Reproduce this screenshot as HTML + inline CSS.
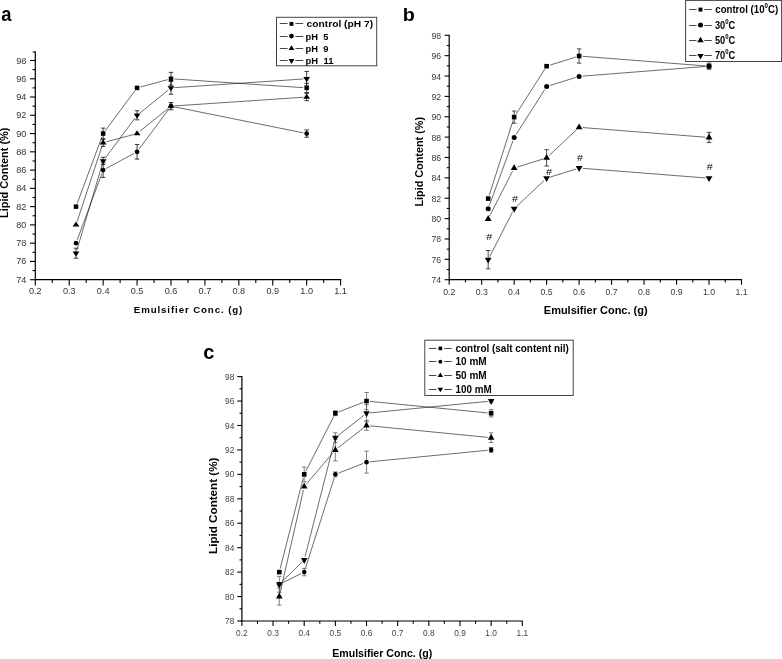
<!DOCTYPE html>
<html><head><meta charset="utf-8"><title>Lipid content charts</title>
<style>
html,body{margin:0;padding:0;background:#fff;}
body{width:782px;height:659px;overflow:hidden;font-family:"Liberation Sans",sans-serif;}
svg{display:block;will-change:transform;filter:grayscale(1);}
text{font-family:"Liberation Sans",sans-serif;}
.ax{stroke:#000;stroke-width:1.2;fill:none;}
.tk{stroke:#000;stroke-width:1.1;fill:none;}
.ln{stroke:#111;stroke-width:0.62;fill:none;}
.eba{stroke:#111;stroke-width:0.8;fill:none;}
.ebb{stroke:#111;stroke-width:0.75;fill:none;}
.ebc{stroke:#444;stroke-width:0.65;fill:none;}
.ll{stroke:#333;stroke-width:0.9;fill:none;}
.tl{fill:#333;}
.at{font-weight:bold;fill:#000;}
.lg{font-weight:bold;fill:#000;}
.lgb{fill:#fff;stroke:#444;stroke-width:1;}
.pl{font-size:20px;font-weight:bold;fill:#000;}
.hs{font-size:10px;fill:#000;}
</style></head><body>
<svg width="782" height="659" viewBox="0 0 782 659">
<rect width="782" height="659" fill="#fff"/>
<g id="chart-a">
<line x1="35.30" y1="51.40" x2="35.30" y2="280.30" class="ax"/>
<line x1="34.70" y1="279.70" x2="341.20" y2="279.70" class="ax"/>
<line x1="32.70" y1="51.90" x2="35.30" y2="51.90" class="tk"/>
<line x1="30.00" y1="279.70" x2="35.30" y2="279.70" class="tk"/>
<text transform="translate(26.30,282.70) scale(1.1,1)" class="tl" style="font-size:8.3px;fill:#333" text-anchor="end">74</text>
<line x1="32.50" y1="270.57" x2="35.30" y2="270.57" class="tk"/>
<line x1="30.00" y1="261.43" x2="35.30" y2="261.43" class="tk"/>
<text transform="translate(26.30,264.43) scale(1.1,1)" class="tl" style="font-size:8.3px;fill:#333" text-anchor="end">76</text>
<line x1="32.50" y1="252.30" x2="35.30" y2="252.30" class="tk"/>
<line x1="30.00" y1="243.17" x2="35.30" y2="243.17" class="tk"/>
<text transform="translate(26.30,246.17) scale(1.1,1)" class="tl" style="font-size:8.3px;fill:#333" text-anchor="end">78</text>
<line x1="32.50" y1="234.03" x2="35.30" y2="234.03" class="tk"/>
<line x1="30.00" y1="224.90" x2="35.30" y2="224.90" class="tk"/>
<text transform="translate(26.30,227.90) scale(1.1,1)" class="tl" style="font-size:8.3px;fill:#333" text-anchor="end">80</text>
<line x1="32.50" y1="215.77" x2="35.30" y2="215.77" class="tk"/>
<line x1="30.00" y1="206.63" x2="35.30" y2="206.63" class="tk"/>
<text transform="translate(26.30,209.63) scale(1.1,1)" class="tl" style="font-size:8.3px;fill:#333" text-anchor="end">82</text>
<line x1="32.50" y1="197.50" x2="35.30" y2="197.50" class="tk"/>
<line x1="30.00" y1="188.37" x2="35.30" y2="188.37" class="tk"/>
<text transform="translate(26.30,191.37) scale(1.1,1)" class="tl" style="font-size:8.3px;fill:#333" text-anchor="end">84</text>
<line x1="32.50" y1="179.23" x2="35.30" y2="179.23" class="tk"/>
<line x1="30.00" y1="170.10" x2="35.30" y2="170.10" class="tk"/>
<text transform="translate(26.30,173.10) scale(1.1,1)" class="tl" style="font-size:8.3px;fill:#333" text-anchor="end">86</text>
<line x1="32.50" y1="160.97" x2="35.30" y2="160.97" class="tk"/>
<line x1="30.00" y1="151.83" x2="35.30" y2="151.83" class="tk"/>
<text transform="translate(26.30,154.83) scale(1.1,1)" class="tl" style="font-size:8.3px;fill:#333" text-anchor="end">88</text>
<line x1="32.50" y1="142.70" x2="35.30" y2="142.70" class="tk"/>
<line x1="30.00" y1="133.57" x2="35.30" y2="133.57" class="tk"/>
<text transform="translate(26.30,136.57) scale(1.1,1)" class="tl" style="font-size:8.3px;fill:#333" text-anchor="end">90</text>
<line x1="32.50" y1="124.43" x2="35.30" y2="124.43" class="tk"/>
<line x1="30.00" y1="115.30" x2="35.30" y2="115.30" class="tk"/>
<text transform="translate(26.30,118.30) scale(1.1,1)" class="tl" style="font-size:8.3px;fill:#333" text-anchor="end">92</text>
<line x1="32.50" y1="106.17" x2="35.30" y2="106.17" class="tk"/>
<line x1="30.00" y1="97.03" x2="35.30" y2="97.03" class="tk"/>
<text transform="translate(26.30,100.03) scale(1.1,1)" class="tl" style="font-size:8.3px;fill:#333" text-anchor="end">94</text>
<line x1="32.50" y1="87.90" x2="35.30" y2="87.90" class="tk"/>
<line x1="30.00" y1="78.77" x2="35.30" y2="78.77" class="tk"/>
<text transform="translate(26.30,81.77) scale(1.1,1)" class="tl" style="font-size:8.3px;fill:#333" text-anchor="end">96</text>
<line x1="32.50" y1="69.63" x2="35.30" y2="69.63" class="tk"/>
<line x1="30.00" y1="60.50" x2="35.30" y2="60.50" class="tk"/>
<text transform="translate(26.30,63.50) scale(1.1,1)" class="tl" style="font-size:8.3px;fill:#333" text-anchor="end">98</text>
<line x1="35.30" y1="279.70" x2="35.30" y2="285.40" class="tk"/>
<text transform="translate(35.30,293.70) scale(1.1,1)" class="tl" style="font-size:8.3px;fill:#333" text-anchor="middle">0.2</text>
<line x1="52.26" y1="279.70" x2="52.26" y2="282.90" class="tk"/>
<line x1="69.22" y1="279.70" x2="69.22" y2="285.40" class="tk"/>
<text transform="translate(69.22,293.70) scale(1.1,1)" class="tl" style="font-size:8.3px;fill:#333" text-anchor="middle">0.3</text>
<line x1="86.18" y1="279.70" x2="86.18" y2="282.90" class="tk"/>
<line x1="103.14" y1="279.70" x2="103.14" y2="285.40" class="tk"/>
<text transform="translate(103.14,293.70) scale(1.1,1)" class="tl" style="font-size:8.3px;fill:#333" text-anchor="middle">0.4</text>
<line x1="120.11" y1="279.70" x2="120.11" y2="282.90" class="tk"/>
<line x1="137.07" y1="279.70" x2="137.07" y2="285.40" class="tk"/>
<text transform="translate(137.07,293.70) scale(1.1,1)" class="tl" style="font-size:8.3px;fill:#333" text-anchor="middle">0.5</text>
<line x1="154.03" y1="279.70" x2="154.03" y2="282.90" class="tk"/>
<line x1="170.99" y1="279.70" x2="170.99" y2="285.40" class="tk"/>
<text transform="translate(170.99,293.70) scale(1.1,1)" class="tl" style="font-size:8.3px;fill:#333" text-anchor="middle">0.6</text>
<line x1="187.95" y1="279.70" x2="187.95" y2="282.90" class="tk"/>
<line x1="204.91" y1="279.70" x2="204.91" y2="285.40" class="tk"/>
<text transform="translate(204.91,293.70) scale(1.1,1)" class="tl" style="font-size:8.3px;fill:#333" text-anchor="middle">0.7</text>
<line x1="221.87" y1="279.70" x2="221.87" y2="282.90" class="tk"/>
<line x1="238.83" y1="279.70" x2="238.83" y2="285.40" class="tk"/>
<text transform="translate(238.83,293.70) scale(1.1,1)" class="tl" style="font-size:8.3px;fill:#333" text-anchor="middle">0.8</text>
<line x1="255.79" y1="279.70" x2="255.79" y2="282.90" class="tk"/>
<line x1="272.76" y1="279.70" x2="272.76" y2="285.40" class="tk"/>
<text transform="translate(272.76,293.70) scale(1.1,1)" class="tl" style="font-size:8.3px;fill:#333" text-anchor="middle">0.9</text>
<line x1="289.72" y1="279.70" x2="289.72" y2="282.90" class="tk"/>
<line x1="306.68" y1="279.70" x2="306.68" y2="285.40" class="tk"/>
<text transform="translate(306.68,293.70) scale(1.1,1)" class="tl" style="font-size:8.3px;fill:#333" text-anchor="middle">1.0</text>
<line x1="323.64" y1="279.70" x2="323.64" y2="282.90" class="tk"/>
<line x1="340.60" y1="279.70" x2="340.60" y2="285.40" class="tk"/>
<text transform="translate(340.60,293.70) scale(1.1,1)" class="tl" style="font-size:8.3px;fill:#333" text-anchor="middle">1.1</text>
<path d="M77.23,203.35L101.93,136.85M105.23,130.76L134.98,90.71M140.45,86.99L167.61,79.68M174.48,79.00L303.19,87.66" class="ln"/>
<path d="M77.23,239.89L101.93,173.38M106.23,168.44L133.99,153.49M139.15,149.02L168.90,108.98M174.42,106.86L303.25,132.87" class="ln"/>
<path d="M77.10,221.58L102.05,146.02M106.52,141.79L133.69,134.48M139.79,131.37L168.27,108.37M174.48,105.93L303.19,97.27" class="ln"/>
<path d="M76.99,249.86L102.16,164.32M105.23,158.16L134.98,118.11M139.79,113.10L168.27,90.10M174.48,87.66L303.19,79.00" class="ln"/>
<rect x="73.76" y="204.38" width="4.50" height="4.50" fill="#000"/>
<path d="M103.14,128.09V139.05M100.84,128.09h4.6M100.84,139.05h4.6" class="eba"/>
<rect x="100.89" y="131.32" width="4.50" height="4.50" fill="#000"/>
<rect x="134.82" y="85.65" width="4.50" height="4.50" fill="#000"/>
<path d="M170.99,72.37V85.16M168.69,72.37h4.6M168.69,85.16h4.6" class="eba"/>
<rect x="168.74" y="76.52" width="4.50" height="4.50" fill="#000"/>
<path d="M306.68,83.33V92.47M304.38,83.33h4.6M304.38,92.47h4.6" class="eba"/>
<rect x="304.43" y="85.65" width="4.50" height="4.50" fill="#000"/>
<circle cx="76.01" cy="243.17" r="2.40" fill="#000"/>
<path d="M103.14,162.79V177.41M100.84,162.79h4.6M100.84,177.41h4.6" class="eba"/>
<circle cx="103.14" cy="170.10" r="2.40" fill="#000"/>
<path d="M137.07,144.53V159.14M134.77,144.53h4.6M134.77,159.14h4.6" class="eba"/>
<circle cx="137.07" cy="151.83" r="2.40" fill="#000"/>
<circle cx="170.99" cy="106.17" r="2.40" fill="#000"/>
<path d="M306.68,129.91V137.22M304.38,129.91h4.6M304.38,137.22h4.6" class="eba"/>
<circle cx="306.68" cy="133.57" r="2.40" fill="#000"/>
<polygon points="76.01,221.50 79.41,226.60 72.61,226.60" fill="#000"/>
<path d="M103.14,139.05V146.35M100.84,139.05h4.6M100.84,146.35h4.6" class="eba"/>
<polygon points="103.14,139.30 106.54,144.40 99.74,144.40" fill="#000"/>
<polygon points="137.07,130.17 140.47,135.27 133.67,135.27" fill="#000"/>
<path d="M170.99,102.51V109.82M168.69,102.51h4.6M168.69,109.82h4.6" class="eba"/>
<polygon points="170.99,102.77 174.39,107.87 167.59,107.87" fill="#000"/>
<path d="M306.68,93.38V100.69M304.38,93.38h4.6M304.38,100.69h4.6" class="eba"/>
<polygon points="306.68,93.63 310.08,98.73 303.28,98.73" fill="#000"/>
<path d="M76.01,248.19V258.24M73.71,248.19h4.6M73.71,258.24h4.6" class="eba"/>
<polygon points="76.01,256.61 79.41,251.51 72.61,251.51" fill="#000"/>
<path d="M103.14,157.31V164.62M100.84,157.31h4.6M100.84,164.62h4.6" class="eba"/>
<polygon points="103.14,164.37 106.54,159.27 99.74,159.27" fill="#000"/>
<path d="M137.07,110.73V119.87M134.77,110.73h4.6M134.77,119.87h4.6" class="eba"/>
<polygon points="137.07,118.70 140.47,113.60 133.67,113.60" fill="#000"/>
<path d="M170.99,81.51V94.29M168.69,81.51h4.6M168.69,94.29h4.6" class="eba"/>
<polygon points="170.99,91.30 174.39,86.20 167.59,86.20" fill="#000"/>
<path d="M306.68,71.46V86.07M304.38,71.46h4.6M304.38,86.07h4.6" class="eba"/>
<polygon points="306.68,82.17 310.08,77.07 303.28,77.07" fill="#000"/>
</g>
<g id="chart-b">
<line x1="449.20" y1="34.80" x2="449.20" y2="280.30" class="ax"/>
<line x1="448.60" y1="279.70" x2="742.10" y2="279.70" class="ax"/>
<line x1="444.60" y1="279.70" x2="449.20" y2="279.70" class="tk"/>
<text transform="translate(441.20,283.20) scale(0.89,1)" class="tl" style="font-size:9.8px;fill:#3a3a3a" text-anchor="end">74</text>
<line x1="446.80" y1="269.52" x2="449.20" y2="269.52" class="tk"/>
<line x1="444.60" y1="259.33" x2="449.20" y2="259.33" class="tk"/>
<text transform="translate(441.20,262.83) scale(0.89,1)" class="tl" style="font-size:9.8px;fill:#3a3a3a" text-anchor="end">76</text>
<line x1="446.80" y1="249.15" x2="449.20" y2="249.15" class="tk"/>
<line x1="444.60" y1="238.97" x2="449.20" y2="238.97" class="tk"/>
<text transform="translate(441.20,242.47) scale(0.89,1)" class="tl" style="font-size:9.8px;fill:#3a3a3a" text-anchor="end">78</text>
<line x1="446.80" y1="228.78" x2="449.20" y2="228.78" class="tk"/>
<line x1="444.60" y1="218.60" x2="449.20" y2="218.60" class="tk"/>
<text transform="translate(441.20,222.10) scale(0.89,1)" class="tl" style="font-size:9.8px;fill:#3a3a3a" text-anchor="end">80</text>
<line x1="446.80" y1="208.42" x2="449.20" y2="208.42" class="tk"/>
<line x1="444.60" y1="198.23" x2="449.20" y2="198.23" class="tk"/>
<text transform="translate(441.20,201.73) scale(0.89,1)" class="tl" style="font-size:9.8px;fill:#3a3a3a" text-anchor="end">82</text>
<line x1="446.80" y1="188.05" x2="449.20" y2="188.05" class="tk"/>
<line x1="444.60" y1="177.87" x2="449.20" y2="177.87" class="tk"/>
<text transform="translate(441.20,181.37) scale(0.89,1)" class="tl" style="font-size:9.8px;fill:#3a3a3a" text-anchor="end">84</text>
<line x1="446.80" y1="167.68" x2="449.20" y2="167.68" class="tk"/>
<line x1="444.60" y1="157.50" x2="449.20" y2="157.50" class="tk"/>
<text transform="translate(441.20,161.00) scale(0.89,1)" class="tl" style="font-size:9.8px;fill:#3a3a3a" text-anchor="end">86</text>
<line x1="446.80" y1="147.32" x2="449.20" y2="147.32" class="tk"/>
<line x1="444.60" y1="137.13" x2="449.20" y2="137.13" class="tk"/>
<text transform="translate(441.20,140.63) scale(0.89,1)" class="tl" style="font-size:9.8px;fill:#3a3a3a" text-anchor="end">88</text>
<line x1="446.80" y1="126.95" x2="449.20" y2="126.95" class="tk"/>
<line x1="444.60" y1="116.77" x2="449.20" y2="116.77" class="tk"/>
<text transform="translate(441.20,120.27) scale(0.89,1)" class="tl" style="font-size:9.8px;fill:#3a3a3a" text-anchor="end">90</text>
<line x1="446.80" y1="106.58" x2="449.20" y2="106.58" class="tk"/>
<line x1="444.60" y1="96.40" x2="449.20" y2="96.40" class="tk"/>
<text transform="translate(441.20,99.90) scale(0.89,1)" class="tl" style="font-size:9.8px;fill:#3a3a3a" text-anchor="end">92</text>
<line x1="446.80" y1="86.22" x2="449.20" y2="86.22" class="tk"/>
<line x1="444.60" y1="76.03" x2="449.20" y2="76.03" class="tk"/>
<text transform="translate(441.20,79.53) scale(0.89,1)" class="tl" style="font-size:9.8px;fill:#3a3a3a" text-anchor="end">94</text>
<line x1="446.80" y1="65.85" x2="449.20" y2="65.85" class="tk"/>
<line x1="444.60" y1="55.67" x2="449.20" y2="55.67" class="tk"/>
<text transform="translate(441.20,59.17) scale(0.89,1)" class="tl" style="font-size:9.8px;fill:#3a3a3a" text-anchor="end">96</text>
<line x1="446.80" y1="45.48" x2="449.20" y2="45.48" class="tk"/>
<line x1="444.60" y1="35.30" x2="449.20" y2="35.30" class="tk"/>
<text transform="translate(441.20,38.80) scale(0.89,1)" class="tl" style="font-size:9.8px;fill:#3a3a3a" text-anchor="end">98</text>
<line x1="449.20" y1="279.70" x2="449.20" y2="284.70" class="tk"/>
<text transform="translate(449.20,294.90) scale(0.89,1)" class="tl" style="font-size:9.8px;fill:#3a3a3a" text-anchor="middle">0.2</text>
<line x1="465.44" y1="279.70" x2="465.44" y2="282.50" class="tk"/>
<line x1="481.68" y1="279.70" x2="481.68" y2="284.70" class="tk"/>
<text transform="translate(481.68,294.90) scale(0.89,1)" class="tl" style="font-size:9.8px;fill:#3a3a3a" text-anchor="middle">0.3</text>
<line x1="497.92" y1="279.70" x2="497.92" y2="282.50" class="tk"/>
<line x1="514.16" y1="279.70" x2="514.16" y2="284.70" class="tk"/>
<text transform="translate(514.16,294.90) scale(0.89,1)" class="tl" style="font-size:9.8px;fill:#3a3a3a" text-anchor="middle">0.4</text>
<line x1="530.39" y1="279.70" x2="530.39" y2="282.50" class="tk"/>
<line x1="546.63" y1="279.70" x2="546.63" y2="284.70" class="tk"/>
<text transform="translate(546.63,294.90) scale(0.89,1)" class="tl" style="font-size:9.8px;fill:#3a3a3a" text-anchor="middle">0.5</text>
<line x1="562.87" y1="279.70" x2="562.87" y2="282.50" class="tk"/>
<line x1="579.11" y1="279.70" x2="579.11" y2="284.70" class="tk"/>
<text transform="translate(579.11,294.90) scale(0.89,1)" class="tl" style="font-size:9.8px;fill:#3a3a3a" text-anchor="middle">0.6</text>
<line x1="595.35" y1="279.70" x2="595.35" y2="282.50" class="tk"/>
<line x1="611.59" y1="279.70" x2="611.59" y2="284.70" class="tk"/>
<text transform="translate(611.59,294.90) scale(0.89,1)" class="tl" style="font-size:9.8px;fill:#3a3a3a" text-anchor="middle">0.7</text>
<line x1="627.83" y1="279.70" x2="627.83" y2="282.50" class="tk"/>
<line x1="644.07" y1="279.70" x2="644.07" y2="284.70" class="tk"/>
<text transform="translate(644.07,294.90) scale(0.89,1)" class="tl" style="font-size:9.8px;fill:#3a3a3a" text-anchor="middle">0.8</text>
<line x1="660.31" y1="279.70" x2="660.31" y2="282.50" class="tk"/>
<line x1="676.54" y1="279.70" x2="676.54" y2="284.70" class="tk"/>
<text transform="translate(676.54,294.90) scale(0.89,1)" class="tl" style="font-size:9.8px;fill:#3a3a3a" text-anchor="middle">0.9</text>
<line x1="692.78" y1="279.70" x2="692.78" y2="282.50" class="tk"/>
<line x1="709.02" y1="279.70" x2="709.02" y2="284.70" class="tk"/>
<text transform="translate(709.02,294.90) scale(0.89,1)" class="tl" style="font-size:9.8px;fill:#3a3a3a" text-anchor="middle">1.0</text>
<line x1="725.26" y1="279.70" x2="725.26" y2="282.50" class="tk"/>
<line x1="741.50" y1="279.70" x2="741.50" y2="284.70" class="tk"/>
<text transform="translate(741.50,294.90) scale(0.89,1)" class="tl" style="font-size:9.8px;fill:#3a3a3a" text-anchor="middle">1.1</text>
<path d="M489.24,195.25L513.09,120.45M516.04,114.17L544.75,69.15M549.97,65.15L575.77,57.06M582.60,56.29L705.53,65.93" class="ln"/>
<path d="M489.37,205.48L512.96,140.77M516.04,134.53L544.75,89.52M549.97,85.52L575.77,77.43M582.60,76.11L705.53,66.47" class="ln"/>
<path d="M489.76,215.83L512.56,171.15M517.50,166.99L543.29,158.90M549.18,155.45L576.56,129.70M582.60,127.57L705.53,137.21" class="ln"/>
<path d="M489.76,256.57L512.56,211.88M516.70,206.37L544.08,180.61M549.97,177.17L575.77,169.08M582.60,168.31L705.53,177.94" class="ln"/>
<path d="M488.17,250.52V268.85M485.87,250.52h4.6M485.87,268.85h4.6" class="ebb"/>
<polygon points="488.17,263.55 491.57,257.75 484.77,257.75" fill="#000"/>
<polygon points="514.16,212.63 517.56,206.83 510.76,206.83" fill="#000"/>
<polygon points="546.63,182.08 550.03,176.28 543.23,176.28" fill="#000"/>
<polygon points="579.11,171.90 582.51,166.10 575.71,166.10" fill="#000"/>
<polygon points="709.02,182.08 712.42,176.28 705.62,176.28" fill="#000"/>
<polygon points="488.17,215.08 491.57,220.88 484.77,220.88" fill="#000"/>
<polygon points="514.16,164.17 517.56,169.97 510.76,169.97" fill="#000"/>
<path d="M546.63,149.70V166.00M544.33,149.70h4.6M544.33,166.00h4.6" class="ebb"/>
<polygon points="546.63,153.98 550.03,159.78 543.23,159.78" fill="#000"/>
<polygon points="579.11,123.43 582.51,129.23 575.71,129.23" fill="#000"/>
<path d="M709.02,132.39V142.58M706.72,132.39h4.6M706.72,142.58h4.6" class="ebb"/>
<polygon points="709.02,133.62 712.42,139.42 705.62,139.42" fill="#000"/>
<circle cx="488.17" cy="208.77" r="2.50" fill="#000"/>
<circle cx="514.16" cy="137.48" r="2.50" fill="#000"/>
<circle cx="546.63" cy="86.57" r="2.50" fill="#000"/>
<circle cx="579.11" cy="76.38" r="2.50" fill="#000"/>
<circle cx="709.02" cy="66.20" r="2.50" fill="#000"/>
<rect x="485.87" y="196.28" width="4.60" height="4.60" fill="#000"/>
<path d="M514.16,111.01V123.23M511.86,111.01h4.6M511.86,123.23h4.6" class="ebb"/>
<rect x="511.86" y="114.82" width="4.60" height="4.60" fill="#000"/>
<rect x="544.33" y="63.90" width="4.60" height="4.60" fill="#000"/>
<path d="M579.11,48.89V63.15M576.81,48.89h4.6M576.81,63.15h4.6" class="ebb"/>
<rect x="576.81" y="53.72" width="4.60" height="4.60" fill="#000"/>
<path d="M709.02,63.15V69.25M706.72,63.15h4.6M706.72,69.25h4.6" class="ebb"/>
<rect x="706.72" y="63.90" width="4.60" height="4.60" fill="#000"/>
</g>
<g id="chart-c">
<line x1="241.90" y1="376.10" x2="241.90" y2="621.60" class="ax"/>
<line x1="241.30" y1="621.00" x2="522.90" y2="621.00" class="ax"/>
<line x1="237.30" y1="621.00" x2="241.90" y2="621.00" class="tk"/>
<text transform="translate(234.30,624.05) scale(0.9,1)" class="tl" style="font-size:9.3px;fill:#444" text-anchor="end">78</text>
<line x1="239.50" y1="608.78" x2="241.90" y2="608.78" class="tk"/>
<line x1="237.30" y1="596.56" x2="241.90" y2="596.56" class="tk"/>
<text transform="translate(234.30,599.61) scale(0.9,1)" class="tl" style="font-size:9.3px;fill:#444" text-anchor="end">80</text>
<line x1="239.50" y1="584.34" x2="241.90" y2="584.34" class="tk"/>
<line x1="237.30" y1="572.12" x2="241.90" y2="572.12" class="tk"/>
<text transform="translate(234.30,575.17) scale(0.9,1)" class="tl" style="font-size:9.3px;fill:#444" text-anchor="end">82</text>
<line x1="239.50" y1="559.90" x2="241.90" y2="559.90" class="tk"/>
<line x1="237.30" y1="547.68" x2="241.90" y2="547.68" class="tk"/>
<text transform="translate(234.30,550.73) scale(0.9,1)" class="tl" style="font-size:9.3px;fill:#444" text-anchor="end">84</text>
<line x1="239.50" y1="535.46" x2="241.90" y2="535.46" class="tk"/>
<line x1="237.30" y1="523.24" x2="241.90" y2="523.24" class="tk"/>
<text transform="translate(234.30,526.29) scale(0.9,1)" class="tl" style="font-size:9.3px;fill:#444" text-anchor="end">86</text>
<line x1="239.50" y1="511.02" x2="241.90" y2="511.02" class="tk"/>
<line x1="237.30" y1="498.80" x2="241.90" y2="498.80" class="tk"/>
<text transform="translate(234.30,501.85) scale(0.9,1)" class="tl" style="font-size:9.3px;fill:#444" text-anchor="end">88</text>
<line x1="239.50" y1="486.58" x2="241.90" y2="486.58" class="tk"/>
<line x1="237.30" y1="474.36" x2="241.90" y2="474.36" class="tk"/>
<text transform="translate(234.30,477.41) scale(0.9,1)" class="tl" style="font-size:9.3px;fill:#444" text-anchor="end">90</text>
<line x1="239.50" y1="462.14" x2="241.90" y2="462.14" class="tk"/>
<line x1="237.30" y1="449.92" x2="241.90" y2="449.92" class="tk"/>
<text transform="translate(234.30,452.97) scale(0.9,1)" class="tl" style="font-size:9.3px;fill:#444" text-anchor="end">92</text>
<line x1="239.50" y1="437.70" x2="241.90" y2="437.70" class="tk"/>
<line x1="237.30" y1="425.48" x2="241.90" y2="425.48" class="tk"/>
<text transform="translate(234.30,428.53) scale(0.9,1)" class="tl" style="font-size:9.3px;fill:#444" text-anchor="end">94</text>
<line x1="239.50" y1="413.26" x2="241.90" y2="413.26" class="tk"/>
<line x1="237.30" y1="401.04" x2="241.90" y2="401.04" class="tk"/>
<text transform="translate(234.30,404.09) scale(0.9,1)" class="tl" style="font-size:9.3px;fill:#444" text-anchor="end">96</text>
<line x1="239.50" y1="388.82" x2="241.90" y2="388.82" class="tk"/>
<line x1="237.30" y1="376.60" x2="241.90" y2="376.60" class="tk"/>
<text transform="translate(234.30,379.65) scale(0.9,1)" class="tl" style="font-size:9.3px;fill:#444" text-anchor="end">98</text>
<line x1="241.90" y1="621.00" x2="241.90" y2="626.00" class="tk"/>
<text transform="translate(241.90,636.30) scale(0.9,1)" class="tl" style="font-size:9.3px;fill:#444" text-anchor="middle">0.2</text>
<line x1="257.48" y1="621.00" x2="257.48" y2="623.80" class="tk"/>
<line x1="273.06" y1="621.00" x2="273.06" y2="626.00" class="tk"/>
<text transform="translate(273.06,636.30) scale(0.9,1)" class="tl" style="font-size:9.3px;fill:#444" text-anchor="middle">0.3</text>
<line x1="288.63" y1="621.00" x2="288.63" y2="623.80" class="tk"/>
<line x1="304.21" y1="621.00" x2="304.21" y2="626.00" class="tk"/>
<text transform="translate(304.21,636.30) scale(0.9,1)" class="tl" style="font-size:9.3px;fill:#444" text-anchor="middle">0.4</text>
<line x1="319.79" y1="621.00" x2="319.79" y2="623.80" class="tk"/>
<line x1="335.37" y1="621.00" x2="335.37" y2="626.00" class="tk"/>
<text transform="translate(335.37,636.30) scale(0.9,1)" class="tl" style="font-size:9.3px;fill:#444" text-anchor="middle">0.5</text>
<line x1="350.94" y1="621.00" x2="350.94" y2="623.80" class="tk"/>
<line x1="366.52" y1="621.00" x2="366.52" y2="626.00" class="tk"/>
<text transform="translate(366.52,636.30) scale(0.9,1)" class="tl" style="font-size:9.3px;fill:#444" text-anchor="middle">0.6</text>
<line x1="382.10" y1="621.00" x2="382.10" y2="623.80" class="tk"/>
<line x1="397.68" y1="621.00" x2="397.68" y2="626.00" class="tk"/>
<text transform="translate(397.68,636.30) scale(0.9,1)" class="tl" style="font-size:9.3px;fill:#444" text-anchor="middle">0.7</text>
<line x1="413.26" y1="621.00" x2="413.26" y2="623.80" class="tk"/>
<line x1="428.83" y1="621.00" x2="428.83" y2="626.00" class="tk"/>
<text transform="translate(428.83,636.30) scale(0.9,1)" class="tl" style="font-size:9.3px;fill:#444" text-anchor="middle">0.8</text>
<line x1="444.41" y1="621.00" x2="444.41" y2="623.80" class="tk"/>
<line x1="459.99" y1="621.00" x2="459.99" y2="626.00" class="tk"/>
<text transform="translate(459.99,636.30) scale(0.9,1)" class="tl" style="font-size:9.3px;fill:#444" text-anchor="middle">0.9</text>
<line x1="475.57" y1="621.00" x2="475.57" y2="623.80" class="tk"/>
<line x1="491.14" y1="621.00" x2="491.14" y2="626.00" class="tk"/>
<text transform="translate(491.14,636.30) scale(0.9,1)" class="tl" style="font-size:9.3px;fill:#444" text-anchor="middle">1.0</text>
<line x1="506.72" y1="621.00" x2="506.72" y2="623.80" class="tk"/>
<line x1="522.30" y1="621.00" x2="522.30" y2="626.00" class="tk"/>
<text transform="translate(522.30,636.30) scale(0.9,1)" class="tl" style="font-size:9.3px;fill:#444" text-anchor="middle">1.1</text>
<path d="M280.15,568.73L303.35,477.75M305.80,471.24L333.78,416.38M338.62,411.98L363.26,402.32M370.01,401.38L487.66,412.92" class="ln"/>
<path d="M282.43,582.80L301.07,573.66M305.27,568.79L334.30,477.69M338.62,473.08L363.26,463.42M370.01,461.80L487.66,450.26" class="ln"/>
<path d="M280.06,593.15L303.44,489.99M306.48,483.91L333.10,452.59M338.12,447.76L363.77,427.64M370.01,425.82L487.66,437.36" class="ln"/>
<path d="M281.79,581.89L301.71,562.35M305.08,556.51L334.50,441.09M338.12,435.54L363.77,415.42M370.01,412.92L487.66,401.38" class="ln"/>
<rect x="276.99" y="569.82" width="4.60" height="4.60" fill="#000"/>
<path d="M304.21,467.03V481.69M301.91,467.03h4.6M301.91,481.69h4.6" class="ebc"/>
<rect x="301.91" y="472.06" width="4.60" height="4.60" fill="#000"/>
<path d="M335.37,410.82V415.70M333.07,410.82h4.6M333.07,415.70h4.6" class="ebc"/>
<rect x="333.07" y="410.96" width="4.60" height="4.60" fill="#000"/>
<path d="M366.52,392.49V409.59M364.22,392.49h4.6M364.22,409.59h4.6" class="ebc"/>
<rect x="364.22" y="398.74" width="4.60" height="4.60" fill="#000"/>
<path d="M491.14,409.59V416.93M488.84,409.59h4.6M488.84,416.93h4.6" class="ebc"/>
<rect x="488.84" y="410.96" width="4.60" height="4.60" fill="#000"/>
<circle cx="279.29" cy="584.34" r="2.30" fill="#000"/>
<path d="M304.21,568.45V575.79M301.91,568.45h4.6M301.91,575.79h4.6" class="ebc"/>
<circle cx="304.21" cy="572.12" r="2.30" fill="#000"/>
<path d="M335.37,471.92V476.80M333.07,471.92h4.6M333.07,476.80h4.6" class="ebc"/>
<circle cx="335.37" cy="474.36" r="2.30" fill="#000"/>
<path d="M366.52,451.14V473.14M364.22,451.14h4.6M364.22,473.14h4.6" class="ebc"/>
<circle cx="366.52" cy="462.14" r="2.30" fill="#000"/>
<path d="M491.14,447.48V452.36M488.84,447.48h4.6M488.84,452.36h4.6" class="ebc"/>
<circle cx="491.14" cy="449.92" r="2.30" fill="#000"/>
<path d="M279.29,588.01V605.11M276.99,588.01h4.6M276.99,605.11h4.6" class="ebc"/>
<polygon points="279.29,592.56 282.54,598.56 276.04,598.56" fill="#000"/>
<polygon points="304.21,482.58 307.46,488.58 300.96,488.58" fill="#000"/>
<path d="M335.37,438.92V460.92M333.07,438.92h4.6M333.07,460.92h4.6" class="ebc"/>
<polygon points="335.37,445.92 338.62,451.92 332.12,451.92" fill="#000"/>
<path d="M366.52,420.59V430.37M364.22,420.59h4.6M364.22,430.37h4.6" class="ebc"/>
<polygon points="366.52,421.48 369.77,427.48 363.27,427.48" fill="#000"/>
<path d="M491.14,432.81V442.59M488.84,432.81h4.6M488.84,442.59h4.6" class="ebc"/>
<polygon points="491.14,433.70 494.39,439.70 487.89,439.70" fill="#000"/>
<path d="M279.29,576.40V592.28M276.99,576.40h4.6M276.99,592.28h4.6" class="ebc"/>
<polygon points="279.29,588.34 282.54,582.34 276.04,582.34" fill="#000"/>
<polygon points="304.21,563.90 307.46,557.90 300.96,557.90" fill="#000"/>
<path d="M335.37,432.81V442.59M333.07,432.81h4.6M333.07,442.59h4.6" class="ebc"/>
<polygon points="335.37,441.70 338.62,435.70 332.12,435.70" fill="#000"/>
<path d="M366.52,404.71V421.81M364.22,404.71h4.6M364.22,421.81h4.6" class="ebc"/>
<polygon points="366.52,417.26 369.77,411.26 363.27,411.26" fill="#000"/>
<path d="M491.14,399.82V402.26M488.84,399.82h4.6M488.84,402.26h4.6" class="ebc"/>
<polygon points="491.14,405.04 494.39,399.04 487.89,399.04" fill="#000"/>
</g>
<g id="legend-a"><rect x="276.50" y="17.30" width="100.20" height="48.50" class="lgb"/>
<path d="M279.80,23.50H287.60M295.40,23.50H303.20" class="ll"/>
<rect x="289.58" y="21.98" width="3.84" height="3.84" fill="#000"/>
<text x="306.60" y="27.32" class="lg" style="font-size:9.5px" textLength="66.5" lengthAdjust="spacingAndGlyphs">control (pH 7)</text>
<path d="M279.80,36.50H287.60M295.40,36.50H303.20" class="ll"/>
<circle cx="291.50" cy="36.10" r="2.38" fill="#000"/>
<text x="305.60" y="39.52" class="lg" style="font-size:9.5px" textLength="22.8" lengthAdjust="spacingAndGlyphs">pH&#160;&#160;5</text>
<path d="M279.80,48.50H287.60M295.40,48.50H303.20" class="ll"/>
<polygon points="291.50,45.32 294.47,50.09 288.53,50.09" fill="#000"/>
<text x="305.60" y="51.92" class="lg" style="font-size:9.5px" textLength="22.8" lengthAdjust="spacingAndGlyphs">pH&#160;&#160;9</text>
<path d="M279.80,60.50H287.60M295.40,60.50H303.20" class="ll"/>
<polygon points="291.50,63.88 294.47,59.11 288.53,59.11" fill="#000"/>
<text x="305.60" y="64.12" class="lg" style="font-size:9.5px" textLength="27.8" lengthAdjust="spacingAndGlyphs">pH&#160;&#160;11</text></g>
<g id="legend-b"><rect x="685.60" y="0.40" width="96.00" height="61.10" class="lgb"/>
<path d="M689.20,9.50H696.60M704.40,9.50H711.80" class="ll"/>
<rect x="698.53" y="7.63" width="3.94" height="3.94" fill="#000"/>
<text x="715.30" y="13.20" class="lg" style="font-size:10px" textLength="62.9" lengthAdjust="spacingAndGlyphs">control (10<tspan dy="-5.0" style="font-size:6.5px">0</tspan><tspan dy="5.0">C</tspan>)</text>
<path d="M689.20,25.50H696.60M704.40,25.50H711.80" class="ll"/>
<circle cx="700.50" cy="25.00" r="2.50" fill="#000"/>
<text x="714.90" y="28.60" class="lg" style="font-size:10px" textLength="20.3" lengthAdjust="spacingAndGlyphs">30<tspan dy="-5.0" style="font-size:6.5px">0</tspan><tspan dy="5.0">C</tspan></text>
<path d="M689.20,40.50H696.60M704.40,40.50H711.80" class="ll"/>
<polygon points="700.50,36.87 703.80,42.17 697.20,42.17" fill="#000"/>
<text x="714.90" y="44.00" class="lg" style="font-size:10px" textLength="20.3" lengthAdjust="spacingAndGlyphs">50<tspan dy="-5.0" style="font-size:6.5px">0</tspan><tspan dy="5.0">C</tspan></text>
<path d="M689.20,55.50H696.60M704.40,55.50H711.80" class="ll"/>
<polygon points="700.50,59.33 703.80,54.03 697.20,54.03" fill="#000"/>
<text x="714.90" y="59.40" class="lg" style="font-size:10px" textLength="20.3" lengthAdjust="spacingAndGlyphs">70<tspan dy="-5.0" style="font-size:6.5px">0</tspan><tspan dy="5.0">C</tspan></text></g>
<g id="legend-c"><rect x="424.80" y="340.20" width="148.40" height="55.30" class="lgb"/>
<path d="M428.90,348.50H436.45M444.25,348.50H451.80" class="ll"/>
<rect x="438.55" y="346.60" width="3.60" height="3.60" fill="#000"/>
<text x="455.50" y="352.00" class="lg" style="font-size:10px" textLength="113.4" lengthAdjust="spacingAndGlyphs">control (salt content nil)</text>
<path d="M428.90,361.50H436.45M444.25,361.50H451.80" class="ll"/>
<circle cx="440.35" cy="361.70" r="1.95" fill="#000"/>
<text x="455.50" y="365.30" class="lg" style="font-size:10px">10 mM</text>
<path d="M428.90,375.50H436.45M444.25,375.50H451.80" class="ll"/>
<polygon points="440.35,372.40 443.16,376.90 437.55,376.90" fill="#000"/>
<text x="455.50" y="379.00" class="lg" style="font-size:10px">50 mM</text>
<path d="M428.90,389.50H436.45M444.25,389.50H451.80" class="ll"/>
<polygon points="440.35,392.30 443.16,387.80 437.55,387.80" fill="#000"/>
<text x="455.50" y="392.90" class="lg" style="font-size:10px" textLength="36.2" lengthAdjust="spacingAndGlyphs">100 mM</text></g>
<text transform="translate(1.2,21.0) scale(0.92,1)" class="pl">a</text>
<text transform="translate(402.7,21.1) scale(1.04,1)" class="pl" style="font-size:19px">b</text>
<text x="203.2" y="359" class="pl">c</text>
<text x="133.8" y="312.8" class="at" style="font-size:9.7px" textLength="108.5" lengthAdjust="spacing">Emulsifier Conc. (g)</text>
<text x="543.8" y="313.8" class="at" style="font-size:10.6px" textLength="103.8" lengthAdjust="spacingAndGlyphs">Emulsifier Conc. (g)</text>
<text x="332.2" y="656.8" class="at" style="font-size:10.6px" textLength="100" lengthAdjust="spacingAndGlyphs">Emulsifier Conc. (g)</text>
<text transform="translate(8.3,217.9) rotate(-90)" class="at" style="font-size:11px" textLength="90.3" lengthAdjust="spacingAndGlyphs">Lipid Content (%)</text>
<text transform="translate(423.0,206.6) rotate(-90)" class="at" style="font-size:11px" textLength="89.6" lengthAdjust="spacingAndGlyphs">Lipid Content (%)</text>
<text transform="translate(217.0,553.9) rotate(-90)" class="at" style="font-size:11.5px" textLength="96.3" lengthAdjust="spacingAndGlyphs">Lipid Content (%)</text>
<text transform="translate(489.3,240.1) scale(1.08,0.92)" class="hs" text-anchor="middle">#</text>
<text transform="translate(515,201.8) scale(1.08,0.92)" class="hs" text-anchor="middle">#</text>
<text transform="translate(548.9,174.6) scale(1.08,0.92)" class="hs" text-anchor="middle">#</text>
<text transform="translate(580.1,160.6) scale(1.08,0.92)" class="hs" text-anchor="middle">#</text>
<text transform="translate(709.8,169.9) scale(1.08,0.92)" class="hs" text-anchor="middle">#</text>
</svg>
</body></html>
